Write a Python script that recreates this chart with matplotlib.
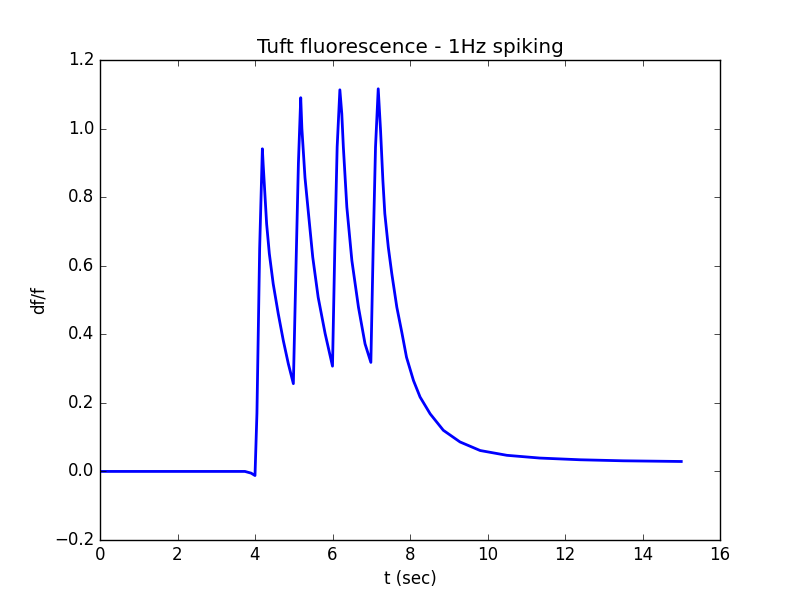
import matplotlib
matplotlib.use("Agg")
import matplotlib.pyplot as plt

# values
t_sec = [0.0, 3.74, 3.9, 4.0, 4.05, 4.12, 4.19,
         4.21, 4.26, 4.30, 4.37, 4.47, 4.60, 4.73, 4.86, 4.99,
         5.06, 5.12, 5.18,
         5.21, 5.29, 5.38, 5.49, 5.63, 5.81, 6.0,
         6.06, 6.12, 6.19,
         6.24, 6.28, 6.37, 6.50, 6.67, 6.84, 6.99,
         7.05, 7.11, 7.18,
         7.24, 7.30, 7.35, 7.44, 7.53, 7.66, 7.79, 7.91, 8.09, 8.26,
         8.52, 8.86, 9.29, 9.81, 10.50, 11.35, 12.39, 13.5, 15.0]
dff = [0.0, 0.0, -0.005, -0.012, 0.17, 0.65, 0.941,
       0.897, 0.800, 0.722, 0.635, 0.547, 0.460, 0.382, 0.314, 0.256,
       0.607, 0.898, 1.09,
       1.0, 0.857, 0.752, 0.625, 0.508, 0.402, 0.307,
       0.654, 0.946, 1.113,
       1.043, 0.946, 0.771, 0.615, 0.479, 0.372, 0.318,
       0.654, 0.946, 1.116,
       0.995, 0.849, 0.752, 0.654, 0.577, 0.479, 0.405, 0.333, 0.265, 0.217,
       0.168, 0.120, 0.086, 0.061, 0.047, 0.039, 0.034, 0.031, 0.029]

plt.style.use("classic")
fig = plt.figure(figsize=(8, 6), dpi=100)
ax = fig.add_subplot(111)
ax.plot(t_sec, dff, color="b", linewidth=2)
ax.set_xlim(0, 16)
ax.set_ylim(-0.2, 1.2)
ax.set_xlabel("t (sec)")
ax.set_ylabel("df/f")
ax.set_title("Tuft fluorescence - 1Hz spiking")
fig.savefig("out.png", dpi=100, facecolor="white")
